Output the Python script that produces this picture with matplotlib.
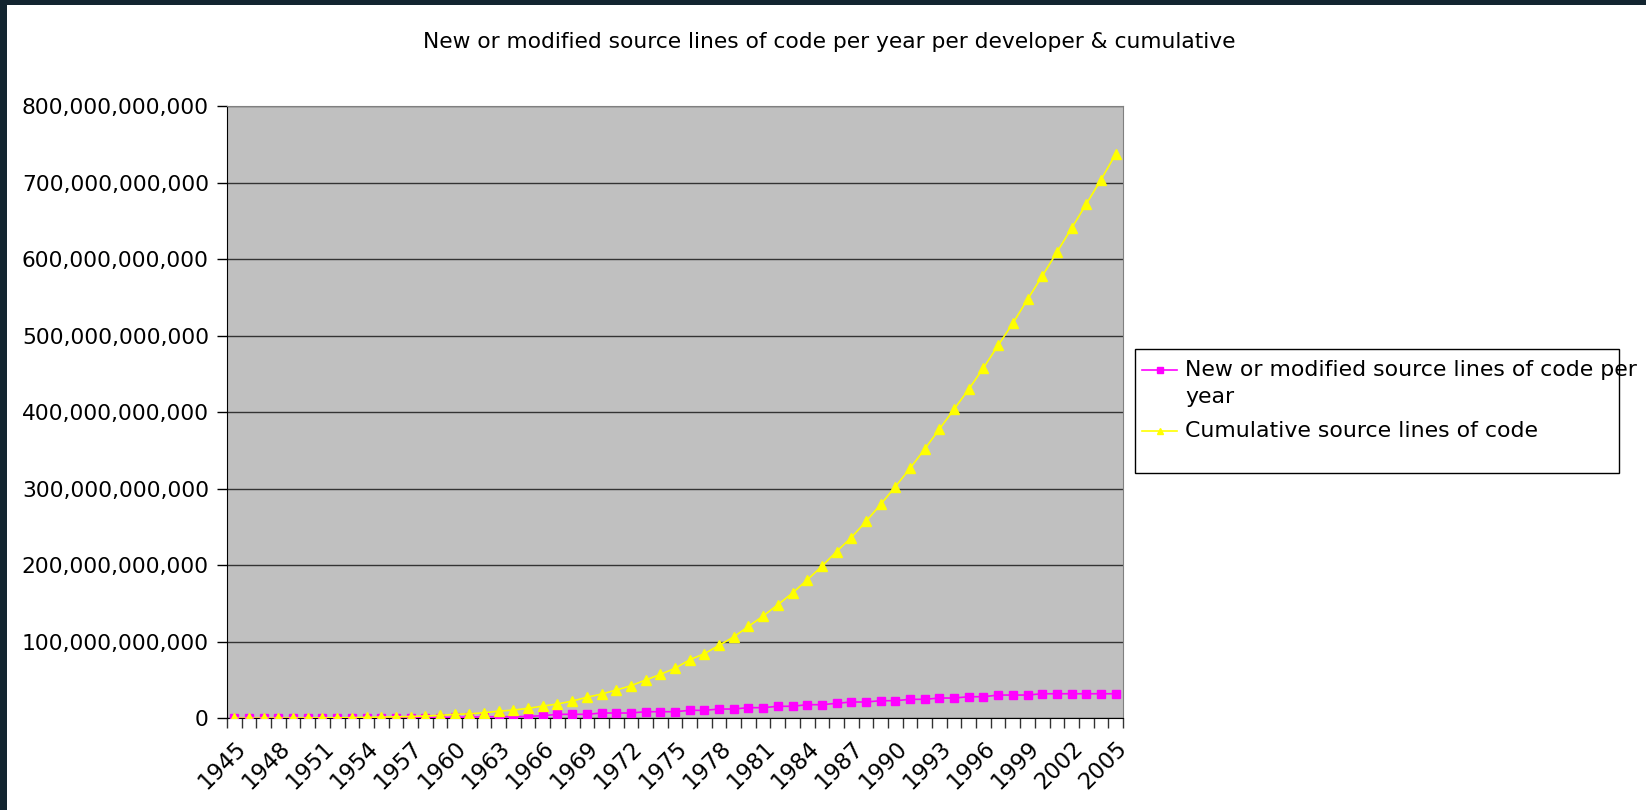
import numpy as np
import matplotlib
matplotlib.use('Agg')
import matplotlib.pyplot as plt
from matplotlib.patches import Rectangle
from matplotlib.lines import Line2D
from matplotlib.ticker import FuncFormatter

# years on the category axis
years = list(range(1945, 2006))

# values, in billions of source lines
new_per_year = [0.05, 0.05, 0.05, 0.1, 0.1, 0.1, 0.1, 0.15, 0.2, 0.3,
                0.35, 0.4, 0.5, 0.7, 1.0, 1.3, 1.6, 1.9, 2.1, 2.1,
                2.5, 3.4, 5.2, 5.2, 5.2, 6.9, 6.9, 6.9, 8.6, 8.6,
                8.6, 10.4, 10.4, 12.1, 12.1, 13.9, 13.9, 15.7, 15.7, 17.8,
                17.8, 19.6, 21.3, 21.3, 23.0, 23.0, 24.8, 24.8, 26.5, 26.5,
                28.2, 28.2, 30.4, 30.4, 30.4, 32.1, 32.1, 32.1, 32.1, 32.1,
                32.1]
cumulative = [0.05, 0.1, 0.15, 0.2, 0.3, 0.4, 0.5, 0.6, 0.8, 1.2,
              1.6, 1.9, 2.3, 3.0, 3.9, 5.2, 5.8, 7.3, 9.3, 10.8,
              13.0, 16.0, 18.7, 22.5, 27.5, 31.7, 36.9, 42.6, 50.0, 57.4,
              65.3, 76.5, 84.5, 95.3, 106.5, 120.1, 133.7, 148.5, 163.8, 180.9,
              198.8, 218.0, 236.3, 257.3, 279.6, 302.8, 326.7, 352.0, 378.0, 404.0,
              430.2, 458.1, 487.6, 516.3, 547.6, 578.0, 609.3, 640.6, 672.3, 704.0,
              737.5]

title = 'New or modified source lines of code per year per developer & cumulative'
label_new = ['New or modified source lines of code per', 'year']
label_cum = ['Cumulative source lines of code']

W, H = 1646, 810
fig = plt.figure(figsize=(W / 100, H / 100), dpi=100)
fig.patch.set_facecolor('white')

# dark screenshot frame on top and left edge
fig.add_artist(Rectangle((0, 1 - 5 / H), 1, 5 / H, transform=fig.transFigure,
                         facecolor='#132530', edgecolor='none'))
fig.add_artist(Rectangle((0, 0), 7 / W, 1, transform=fig.transFigure,
                         facecolor='#132530', edgecolor='none'))

ax = fig.add_axes([227 / W, (H - 718.3) / H, 896 / W, 612 / H])
ax.set_facecolor('#c0c0c0')

x = np.arange(len(years)) + 0.5
ny = np.array(new_per_year) * 1e9
cy = np.array(cumulative) * 1e9

ax.plot(x, ny, color='#ff00ff', lw=1.2, marker='s', markersize=6, zorder=3)
ax.plot(x, cy, color='#ffff00', lw=1.2, marker='^', markersize=7, zorder=4)

ax.set_xlim(0, len(years))
ax.set_ylim(0, 800e9)
ax.set_yticks(np.arange(0, 801e9, 100e9))
ax.yaxis.set_major_formatter(FuncFormatter(lambda v, p: f'{v:,.0f}'))
ax.grid(axis='y', color='#333333', lw=1.0, zorder=1)
ax.set_axisbelow(True)

# tick marks between categories, labels every third year
ax.set_xticks(np.arange(0, len(years) + 1))
ax.set_xticklabels([])
ax.set_xticks(x[::3], minor=True)
ax.set_xticklabels([str(y) for y in years[::3]], minor=True, rotation=45,
                   ha='right', va='top', rotation_mode='anchor')
ax.tick_params(axis='x', which='major', length=7, width=1, color='#333333')
ax.tick_params(axis='x', which='minor', length=0, pad=13, labelsize=16.3)
ax.tick_params(axis='y', length=7, width=1, pad=6, labelsize=15.7)

for side in ['left', 'bottom']:
    ax.spines[side].set_color('black')
for side in ['top', 'right']:
    ax.spines[side].set_color('#808080')

fig.text(829 / W, 1 - 42 / H, title, ha='center', va='center', fontsize=15.7)

# legend, drawn by hand so the box and line spacing match
fig.add_artist(Rectangle((1135 / W, (H - 473) / H), 484 / W, 124 / H,
                         transform=fig.transFigure, facecolor='white',
                         edgecolor='black', lw=1))
entries = [(label_new, '#ff00ff', 's', 4, 369.5),
           (label_cum, '#ffff00', '^', 4.5, 431.5)]
for lines, col, mk, ms, ytop in entries:
    yf = 1 - ytop / H
    fig.add_artist(Line2D([1142 / W, 1177 / W], [yf, yf], transform=fig.transFigure,
                          color=col, lw=1.2))
    fig.add_artist(Line2D([1159.5 / W], [yf], transform=fig.transFigure,
                          color=col, marker=mk, markersize=ms, lw=0))
    for k, txt in enumerate(lines):
        fig.text(1185 / W, 1 - (ytop + 27.5 * k) / H, txt, ha='left', va='center',
                 fontsize=15.8)

plt.savefig('out.png', dpi=100)
plt.close()
